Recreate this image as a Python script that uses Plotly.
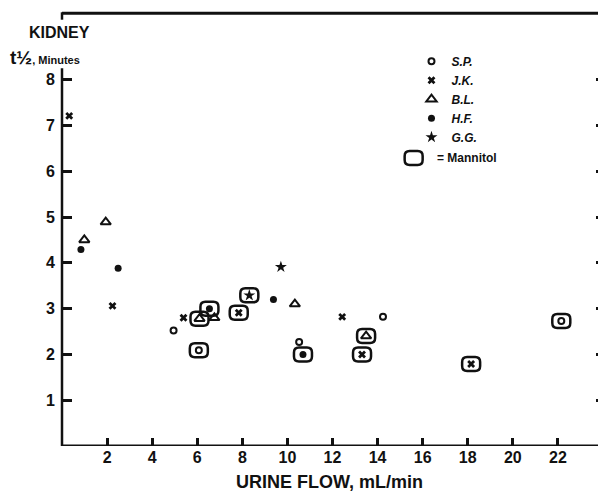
import plotly.graph_objects as go

# ---- data (urine flow mL/min, kidney t1/2 minutes) ----
sp_flow = [4.95, 10.52, 14.24, 6.07, 22.15]
sp_t12 = [2.52, 2.27, 2.82, 2.09, 2.73]
sp_mannitol = [False, False, False, True, True]

jk_flow = [0.32, 2.24, 5.39, 12.43, 7.84, 13.31, 18.15]
jk_t12 = [7.21, 3.06, 2.80, 2.82, 2.91, 2.00, 1.79]
jk_mannitol = [False, False, False, False, True, True, True]

bl_flow = [0.99, 1.94, 6.76, 10.33, 6.10, 13.49]
bl_t12 = [4.50, 4.89, 2.80, 3.10, 2.78, 2.40]
bl_mannitol = [False, False, False, False, True, True]

hf_flow = [0.84, 2.49, 9.38, 6.54, 10.69]
hf_t12 = [4.29, 3.88, 3.20, 3.00, 2.00]
hf_mannitol = [False, False, False, True, True]

gg_flow = [9.71, 8.31]
gg_t12 = [3.91, 3.29]
gg_mannitol = [False, True]

x_ticks = [2, 4, 6, 8, 10, 12, 14, 16, 18, 20, 22]
y_ticks = [1, 2, 3, 4, 5, 6, 7, 8]

FONT = "Liberation Sans, Arial, sans-serif"
INK = "#111111"

subjects = [
    ("S.P.", sp_flow, sp_t12, sp_mannitol, dict(symbol="circle-open", size=6, line=dict(width=2, color=INK))),
    ("J.K.", jk_flow, jk_t12, jk_mannitol, dict(symbol="x", size=7, line=dict(width=0))),
    ("B.L.", bl_flow, bl_t12, bl_mannitol, dict(symbol="triangle-up-open", size=9, line=dict(width=2, color=INK))),
    ("H.F.", hf_flow, hf_t12, hf_mannitol, dict(symbol="circle", size=7, line=dict(width=0))),
    ("G.G.", gg_flow, gg_t12, gg_mannitol, dict(symbol="star", size=9, line=dict(width=0))),
]

fig = go.Figure()
for name, xs, ys, mann, mk in subjects:
    fig.add_trace(go.Scatter(
        x=xs, y=ys, mode="markers", name=f"<b><i>{name}</i></b>",
        marker=dict(color=INK, **mk), hoverinfo="x+y",
    ))

# invisible trace to activate right-hand tick axis
fig.add_trace(go.Scatter(x=[0], y=[0], yaxis="y2", mode="markers",
                         marker=dict(opacity=0), showlegend=False, hoverinfo="skip"))

def rounded_box(w=18, h=14, r=5):
    a, b = w / 2, h / 2
    return (f"M {-a + r},{-b} L {a - r},{-b} Q {a},{-b} {a},{-b + r} "
            f"L {a},{b - r} Q {a},{b} {a - r},{b} L {-a + r},{b} "
            f"Q {-a},{b} {-a},{b - r} L {-a},{-b + r} Q {-a},{-b} {-a + r},{-b} Z")

box_path = rounded_box()
shapes = []
for name, xs, ys, mann, mk in subjects:
    for xv, yv, m in zip(xs, ys, mann):
        if m:
            shapes.append(dict(type="path", xref="x", yref="y",
                               xsizemode="pixel", ysizemode="pixel",
                               xanchor=xv, yanchor=yv, path=box_path,
                               line=dict(color=INK, width=2.5)))

# legend mannitol box
shapes.append(dict(type="path", xref="paper", yref="paper",
                   xsizemode="pixel", ysizemode="pixel",
                   xanchor=0.650, yanchor=0.662, path=box_path,
                   line=dict(color=INK, width=2.5)))

# frame: top line, short hook at top-left, left axis from 0 up to ~8.25, bottom line
shapes += [
    dict(type="line", xref="paper", yref="paper", x0=0, x1=1, y0=0.995, y1=0.995,
         line=dict(color=INK, width=3)),
    dict(type="line", xref="paper", yref="paper", x0=0, x1=0, y0=0.98, y1=0.997,
         line=dict(color=INK, width=2.5)),
    dict(type="line", xref="paper", yref="y", x0=0, x1=0, y0=0, y1=8.25,
         line=dict(color=INK, width=2.5)),
    dict(type="line", xref="paper", yref="y", x0=0, x1=1, y0=0, y1=0,
         line=dict(color=INK, width=3)),
]

annotations = [
    dict(xref="paper", yref="paper", x=0, y=1, xshift=-35, yshift=-21,
         xanchor="left", yanchor="middle", showarrow=False,
         text="<b>KIDNEY</b>", font=dict(family=FONT, size=16, color=INK)),
    dict(xref="paper", yref="paper", x=0, y=1, xshift=-54, yshift=-46,
         xanchor="left", yanchor="middle", showarrow=False,
         text="<b>t½</b><b><span style='font-size:11px'>, Minutes</span></b>",
         font=dict(family=FONT, size=19, color=INK)),
    dict(xref="paper", yref="paper", x=0.495, y=0, yshift=-36,
         xanchor="center", yanchor="middle", showarrow=False,
         text="<b>URINE FLOW, mL/min</b>", font=dict(family=FONT, size=18, color=INK)),
    dict(xref="paper", yref="paper", x=0.690, y=0.662,
         xanchor="left", yanchor="middle", showarrow=False,
         text="<b>= Mannitol</b>", font=dict(family=FONT, size=12, color=INK)),
]

# the page body has an 8 px margin, so the figure is 8 px smaller and margins compensate
fig.update_layout(
    template="none",
    width=598, height=485,
    margin=dict(l=54, r=3, t=3, b=47, autoexpand=False),
    paper_bgcolor="white", plot_bgcolor="white",
    font=dict(family=FONT, color=INK),
    showlegend=True,
    legend=dict(x=0.646, y=0.918, xanchor="left", yanchor="top",
                bgcolor="rgba(0,0,0,0)", font=dict(family=FONT, size=12, color=INK),
                itemsizing="trace", tracegroupgap=0, borderwidth=0),
    xaxis=dict(range=[0, 24], tickvals=x_ticks, ticktext=[f"<b>{v}</b>" for v in x_ticks],
               automargin=False,
               showgrid=False, zeroline=False, showline=False,
               ticks="inside", ticklen=8, tickwidth=2.5, tickcolor=INK,
               tickfont=dict(family=FONT, size=16, color=INK)),
    yaxis=dict(range=[0, 9.5], tickvals=y_ticks, ticktext=[f"<b>{v}</b>" for v in y_ticks],
               automargin=False,
               showgrid=False, zeroline=False, showline=False,
               ticks="inside", ticklen=10, tickwidth=2.5, tickcolor=INK,
               ticklabelstandoff=6,
               tickfont=dict(family=FONT, size=16, color=INK)),
    yaxis2=dict(range=[0, 9.5], overlaying="y", side="right", tickvals=y_ticks,
                automargin=False,
                showticklabels=False, showgrid=False, zeroline=False,
                showline=True, linecolor=INK, linewidth=2,
                ticks="inside", ticklen=7, tickwidth=2.5, tickcolor=INK),
    shapes=shapes,
    annotations=annotations,
)

fig.write_html("out.html")
